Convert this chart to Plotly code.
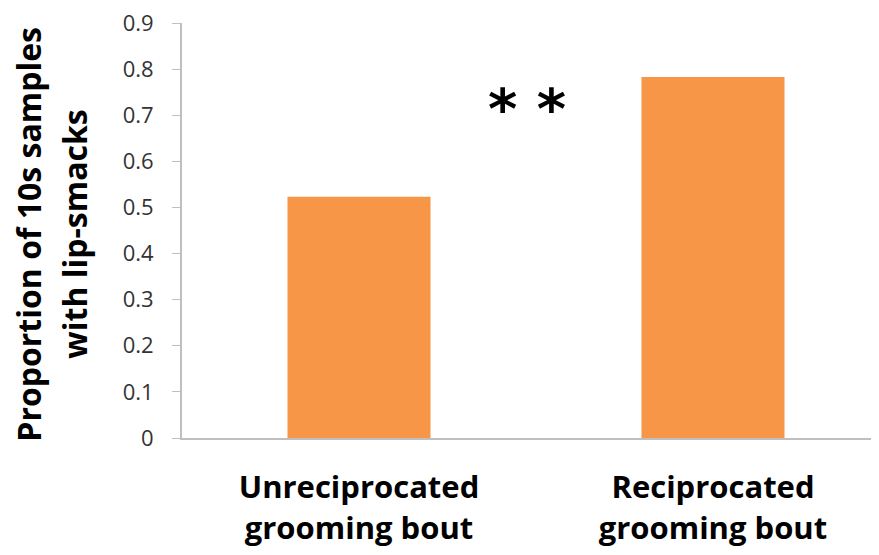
import plotly.graph_objects as go

# categories and values
categories = ["Unreciprocated<br>grooming bout", "Reciprocated<br>grooming bout"]
proportions = [0.523, 0.783]
y_ticks = [0, 0.1, 0.2, 0.3, 0.4, 0.5, 0.6, 0.7, 0.8, 0.9]
y_tick_labels = ["0", "0.1", "0.2", "0.3", "0.4", "0.5", "0.6", "0.7", "0.8", "0.9"]
y_title_lines = ["Proportion of 10s samples", "with lip-smacks"]
significance = "* *"

fig = go.Figure()
fig.add_trace(go.Bar(
    x=[0, 1], y=proportions,
    width=0.404,
    marker=dict(color="#F79646", line=dict(width=0)),
))

# significance stars between the bars
fig.add_annotation(
    x=0.475, y=0.715, xref="x", yref="y",
    text=significance, showarrow=False,
    font=dict(family="DejaVu Sans", size=56, color="black", weight="bold"),
)

# y axis title as two rotated lines (spacing is wider than plotly's default)
for txt, xpos in zip(y_title_lines, [-0.2195, -0.1535]):
    fig.add_annotation(
        x=xpos, y=0.49, xref="paper", yref="paper",
        text=txt, textangle=-90, showarrow=False,
        xanchor="center", yanchor="middle",
        font=dict(family="Open Sans", size=32, color="black", weight="bold"),
    )

# the page body has an 8px margin, so the figure is a bit smaller than the window
fig.update_layout(
    width=871, height=547,
    margin=dict(l=174, r=0, t=15, b=117),
    plot_bgcolor="white", paper_bgcolor="white",
    showlegend=False,
    font=dict(family="Open Sans", color="#262626"),
    xaxis=dict(
        range=[-0.5, 1.469],
        tickvals=[0, 1], ticktext=categories,
        showline=True, linecolor="#BFBFBF", linewidth=2,
        ticks="", showgrid=False, zeroline=False,
        ticklabelstandoff=21,
        tickfont=dict(family="Open Sans", size=31, color="black", weight="bold"),
    ),
    yaxis=dict(
        range=[0, 0.9],
        tickvals=y_ticks, ticktext=y_tick_labels,
        showline=True, linecolor="#BFBFBF", linewidth=2,
        ticks="outside", ticklen=8, tickcolor="#BFBFBF", tickwidth=1,
        ticklabelstandoff=14, ticklabeloverflow="allow",
        showgrid=False, zeroline=False,
        tickfont=dict(family="Open Sans", size=22, color="#333333"),
    ),
)

fig.write_html("out.html")
